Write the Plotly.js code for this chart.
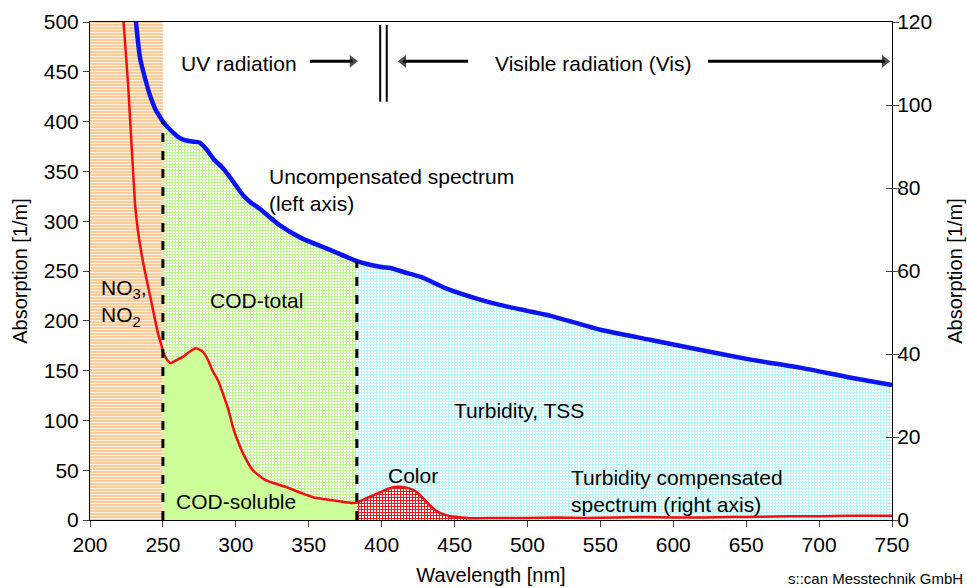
<!DOCTYPE html>
<html>
<head>
<meta charset="utf-8">
<script src="https://cdn.plot.ly/plotly-3.0.1.min.js"></script>
<style>html,body{margin:0;padding:0;background:#fff}#chart{width:967px;height:588px}</style>
</head>
<body>
<div id="chart"></div>
<script>
// Uncompensated spectrum (left axis, 1/m)
const blueWl  = [231.5, 234.3, 238.4, 241, 245, 247, 250, 253.5, 257, 260, 264, 270, 275, 280, 285, 290, 293, 300, 305, 310, 316, 330, 345, 365, 383, 390, 400, 406, 415, 427, 445, 468, 481, 500, 516, 550, 584, 618, 653, 687, 721, 750];
const blueVal = [500, 464, 440, 427, 412, 407, 400, 394, 389, 385, 382, 380, 379, 372, 362, 355, 350, 336, 326, 319, 313, 296, 283, 271, 260, 257, 254, 253, 249, 244, 232, 221, 216, 210, 205, 191, 181, 171, 161, 153, 143, 135.5];

// Turbidity compensated spectrum (right axis, 1/m)
const redWl  = [222, 223, 226.3, 230.9, 233.1, 237, 241.8, 246.6, 249.3, 250, 253, 255.5, 258, 263.7, 268, 272.6, 277.4, 281, 284, 288, 291, 295, 298, 302, 305, 311.6, 320.5, 334, 345, 353, 365, 375, 381, 383, 385, 390, 399, 405, 411, 417, 422, 427, 431.5, 436, 440, 446, 452, 460, 480, 500, 520, 540, 560, 580, 600, 620, 640, 660, 680, 700, 720, 750];
const redVal = [124, 120, 104, 76, 69.1, 61, 53, 45, 41.7, 40.5, 38.5, 37.8, 38.3, 39.3, 40.5, 41.4, 40.5, 38.5, 36, 33.5, 30.6, 26.5, 22.4, 18.5, 16, 12, 9.6, 8, 6.5, 5.5, 4.8, 4.3, 4.1, 4.2, 4.5, 5.3, 6.7, 7.6, 8, 7.8, 7.2, 5.8, 4.1, 2.6, 1.7, 1.0, 0.7, 0.4, 0.5, 0.5, 0.6, 0.5, 0.6, 0.7, 0.6, 0.6, 0.7, 0.8, 0.9, 0.9, 1.0, 1.0];

// Region boundaries (nm): NO3/NO2 | COD | Turbidity ; colour band end
const regionBounds = [200, 250, 383, 750];
const colorEnd = 460;
const leftRange = [0, 500];
const rightRange = [0, 120];
const xTicks = [200, 250, 300, 350, 400, 450, 500, 550, 600, 650, 700, 750];

// Radiation arrows: [tail, head] wavelengths and height (left axis units)
const arrowUV = [350.8, 380];
const arrowVisLeft = [459.3, 414.8];
const arrowVisRight = [623.9, 745];
const arrowY = 460.5;

const FONT = 'Liberation Sans, Arial, Helvetica, sans-serif';

function between(xs, ys, a, b) {
  const ox = [], oy = [];
  xs.forEach((x, i) => { if (x >= a && x <= b) { ox.push(x); oy.push(ys[i]); } });
  return {x: ox, y: oy};
}
function valueAt(xs, ys, x0) {
  const i = xs.indexOf(x0);
  return ys[i];
}

const codTotal = between(blueWl, blueVal, regionBounds[1], regionBounds[2]);
const turbidity = between(blueWl, blueVal, regionBounds[2], regionBounds[3]);
const codSoluble = between(redWl, redVal, regionBounds[1], regionBounds[2]);
const colorBand = between(redWl, redVal, regionBounds[2], colorEnd);

const SM = 0.5;
const fillLine = {width: 0, shape: 'spline', smoothing: SM};

function arrowTrace(pair, symbol) {
  return {x: pair, y: [arrowY, arrowY], type: 'scatter', mode: 'lines+markers',
    line: {color: '#000', width: 3},
    marker: {symbol: ['circle', symbol], size: [0, 11], color: '#000', line: {width: 0}},
    hoverinfo: 'skip', showlegend: false, cliponaxis: false};
}

const traces = [
  {x: [regionBounds[0], regionBounds[1]], y: [leftRange[1], leftRange[1]], type: 'scatter', mode: 'none',
   fill: 'tozeroy', fillcolor: '#FFCC99',
   fillpattern: {shape: '-', bgcolor: '#FFCC99', fgcolor: '#ffffff', size: 3, solidity: 0.25},
   hoverinfo: 'skip', showlegend: false},
  {x: codTotal.x, y: codTotal.y, type: 'scatter', mode: 'lines', line: fillLine, fill: 'tozeroy',
   fillpattern: {shape: '+', bgcolor: '#ffffff', fgcolor: '#BFF58A', size: 3, solidity: 0.55},
   hoverinfo: 'skip', showlegend: false},
  {x: turbidity.x, y: turbidity.y, type: 'scatter', mode: 'lines', line: fillLine, fill: 'tozeroy',
   fillpattern: {shape: '+', bgcolor: '#ffffff', fgcolor: '#B8F6FA', size: 3, solidity: 0.55},
   hoverinfo: 'skip', showlegend: false},
  {x: blueWl, y: blueVal, type: 'scatter', mode: 'lines',
   line: {color: '#0A14F0', width: 4.5, shape: 'spline', smoothing: SM}, hoverinfo: 'skip', showlegend: false},
  arrowTrace(arrowUV, 'triangle-right'),
  arrowTrace(arrowVisLeft, 'triangle-left'),
  arrowTrace(arrowVisRight, 'triangle-right'),
  {x: codSoluble.x, y: codSoluble.y, yaxis: 'y2', type: 'scatter', mode: 'lines', line: fillLine, fill: 'tozeroy',
   fillcolor: '#CCFF99', hoverinfo: 'skip', showlegend: false},
  {x: colorBand.x, y: colorBand.y, yaxis: 'y2', type: 'scatter', mode: 'lines', line: fillLine, fill: 'tozeroy',
   fillpattern: {shape: '+', bgcolor: '#ffffff', fgcolor: '#E8161E', size: 3, solidity: 0.55},
   hoverinfo: 'skip', showlegend: false},
  {x: redWl, y: redVal, yaxis: 'y2', type: 'scatter', mode: 'lines',
   line: {color: '#F01010', width: 2.5, shape: 'spline', smoothing: SM}, hoverinfo: 'skip', showlegend: false},
  {x: [regionBounds[0]], y: [0], yaxis: 'y3', type: 'scatter', mode: 'none', hoverinfo: 'skip', showlegend: false}
];

const txt = (text, x, y, opts) => Object.assign({text: text, x: x, y: y, xref: 'x', yref: 'y', showarrow: false,
  font: {family: FONT, size: 21, color: '#000'}, xanchor: 'center', yanchor: 'middle'}, opts || {});

const annotations = [
  txt('UV radiation', 302, 458),
  txt('Visible radiation (Vis)', 545, 458),
  txt('Uncompensated spectrum<br>(left axis)', 321.5, 331, {xanchor: 'left', align: 'left'}),
  txt('NO<sub>3</sub>,<br>NO<sub>2</sub>', 206.5, 218, {xanchor: 'left', align: 'left'}),
  txt('COD-total', 314.5, 220),
  txt('Turbidity, TSS', 494, 110),
  txt('Color', 421.4, 45),
  txt('Turbidity compensated<br>spectrum (right axis)', 528.5, 29.6, {xanchor: 'left', align: 'left'}),
  txt('COD-soluble', 300, 19),
  {text: 's::can Messtechnik GmbH', xref: 'paper', yref: 'paper', x: 1.0906, y: -0.1165, showarrow: false,
   xanchor: 'right', yanchor: 'middle', font: {family: FONT, size: 15, color: '#000'}}
];

const shapes = [
  {type: 'line', xref: 'x', yref: 'y', x0: regionBounds[1], x1: regionBounds[1], y0: 0,
   y1: valueAt(blueWl, blueVal, regionBounds[1]), line: {color: '#000', width: 3, dash: 'dash'}, layer: 'above'},
  {type: 'line', xref: 'x', yref: 'y', x0: regionBounds[2], x1: regionBounds[2], y0: 0,
   y1: valueAt(blueWl, blueVal, regionBounds[2]), line: {color: '#000', width: 3, dash: 'dash'}, layer: 'above'},
  {type: 'line', xref: 'x', yref: 'y', x0: 399, x1: 399, y0: 420, y1: 497, line: {color: '#000', width: 2}},
  {type: 'line', xref: 'x', yref: 'y', x0: 403.5, x1: 403.5, y0: 420, y1: 497, line: {color: '#000', width: 2}}
];

const axisFont = {family: FONT, size: 21, color: '#000'};
const layout = {
  width: 967, height: 588,
  margin: {l: 90, r: 75, t: 22, b: 68},
  paper_bgcolor: '#fff', plot_bgcolor: '#fff',
  font: {family: FONT, color: '#000'},
  showlegend: false,
  xaxis: {range: [200, 750], tickvals: xTicks, ticks: 'outside', ticklen: 6, tickwidth: 1,
    showline: true, linecolor: '#000', linewidth: 1, mirror: true, showgrid: false, zeroline: false,
    tickfont: axisFont, title: {text: 'Wavelength [nm]', font: {family: FONT, size: 20}, standoff: 12}},
  yaxis: {range: leftRange, dtick: 50, ticks: 'outside', ticklen: 6, tickwidth: 1,
    showline: true, linecolor: '#000', linewidth: 1, showgrid: false, zeroline: false,
    tickfont: axisFont, title: {text: 'Absorption [1/m]', font: {family: FONT, size: 20}, standoff: 10}},
  yaxis2: {range: rightRange, dtick: 20, overlaying: 'y', side: 'right', ticks: 'inside', ticklen: 6, tickwidth: 1,
    showline: true, linecolor: '#000', linewidth: 1, showgrid: false, zeroline: false,
    tickfont: axisFont, title: {text: 'Absorption [1/m]', font: {family: FONT, size: 20}, standoff: 16}},
  yaxis3: {range: rightRange, dtick: 20, overlaying: 'y', side: 'right', ticks: 'outside', ticklen: 6, tickwidth: 1,
    showticklabels: false, showline: false, showgrid: false, zeroline: false},
  annotations: annotations,
  shapes: shapes
};

Plotly.newPlot('chart', traces, layout, {displayModeBar: false, staticPlot: true});
</script>
</body>
</html>
